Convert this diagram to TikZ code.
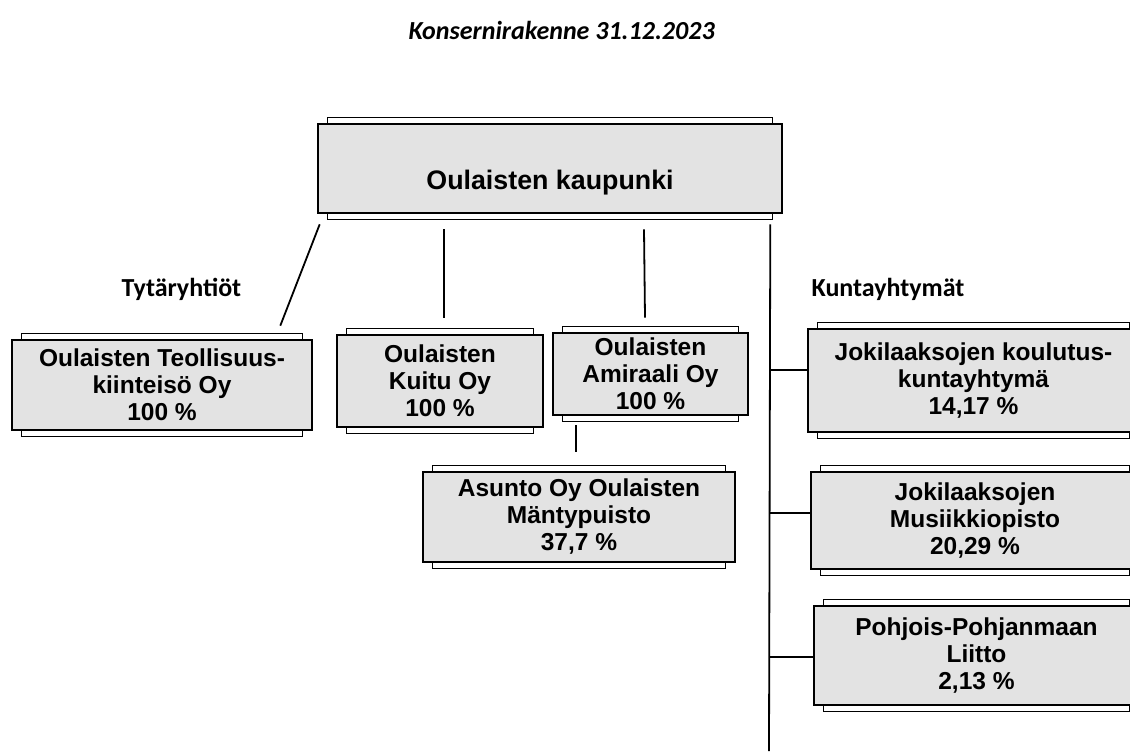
\documentclass[tikz,border=0pt]{standalone}
\usepackage{fontspec}
\setmainfont{Liberation Sans}
\newfontfamily\calibri{Carlito}
\usetikzlibrary{calc,backgrounds}
\definecolor{boxgray}{RGB}{227,227,227}

\begin{document}
\begin{tikzpicture}[x=1pt,y=-1pt]
 \tikzstyle{unit}    = [draw=black,line width=2.6pt,fill=boxgray,align=center,inner sep=0pt,
                        font=\fontsize{24.5}{27}\selectfont\bfseries];
 \tikzstyle{backing} = [draw=black,line width=1.4pt,fill=white];
 \tikzstyle{link}    = [line width=1.8pt];
 \tikzstyle{heading} = [anchor=base west,font=\calibri\fontsize{26}{30}\selectfont\bfseries];

 \useasboundingbox (0,0) rectangle (1130,754);

 %% title
 \node[heading, name=title] at (405,40) {\itshape Konsernirakenne 31.12.2023};

 %% city
 \node[unit, name=konserni, minimum width=464pt, minimum height=89pt,
       font=\fontsize{26.8}{30}\selectfont\bfseries, text height=42pt, text depth=0pt]
       at (550,168.5) {Oulaisten kaupunki};

 %% subsidiaries
 \node[heading, name=tytar] at (118,296) {Tytäryhtiöt};
 \node[unit, name=teol, minimum width=300pt, minimum height=90pt] at (162,385)
      {Oulaisten Teollisuus-\\kiinteisö Oy\\100 \%};
 \node[unit, name=kuitu, minimum width=206pt, minimum height=92pt] at (440,381)
      {Oulaisten\\Kuitu Oy\\100 \%};
 \node[unit, name=amiraali, minimum width=195pt, minimum height=82pt] at (650.5,374)
      {Oulaisten\\Amiraali Oy\\100 \%};
 \node[unit, name=mantypuisto, minimum width=312pt, minimum height=90pt] at (579,517)
      {Asunto Oy Oulaisten\\Mäntypuisto\\37,7 \%};

 %% joint municipal authorities
 \node[heading, name=kunta] at (808,296) {Kuntayhtymät};
 \node[unit, name=koulutus, minimum width=331pt, minimum height=103pt] at (973.5,380.5)
      {Jokilaaksojen koulutus-\\kuntayhtymä\\14,17 \%};
 \node[unit, name=musiikki, minimum width=328pt, minimum height=97pt] at (975,520.5)
      {Jokilaaksojen\\Musiikkiopisto\\20,29 \%};
 \node[unit, name=liitto, minimum width=325pt, minimum height=99pt] at (976.5,655.5)
      {Pohjois-Pohjanmaan\\Liitto\\2,13 \%};

 %% back plates
 \begin{scope}[on background layer]
  \foreach \unitname in {konserni,teol,kuitu,amiraali,mantypuisto,koulutus,musiikki,liitto}
   \draw[backing] ([shift={(11,-5)}]\unitname.north west) rectangle ([shift={(-11,5)}]\unitname.south east);
 \end{scope}

 %% links
 \draw[link] ([shift={(3,10)}]konserni.south west) -- ([shift={(-33,-13)}]teol.north east);
 \draw[link] ([shift={(-106,15)}]konserni.south) -- ([shift={(4,-16)}]kuitu.north);
 \draw[link] ([shift={(94,15)}]konserni.south) -- ([shift={(-5.5,-14)}]amiraali.north);
 \draw[link] ([shift={(-74.5,9)}]amiraali.south) -- ([shift={(-3,-19)}]mantypuisto.north);

 \coordinate (trunktop) at ($(konserni.south east)+(-13,10)$);
 \coordinate (trunkend) at (769,751);
 \draw[link] (trunktop) -- (trunkend);
 \coordinate (b1) at ($(koulutus.west)+(0,-10.5)$);
 \coordinate (b2) at ($(musiikki.west)+(0,-7.5)$);
 \coordinate (b3) at ($(liitto.west)+(0,1.5)$);
 \draw[link] (b1) -- (b1 -| trunktop);
 \draw[link] (b2) -- (b2 -| trunktop);
 \draw[link] (b3) -- (b3 -| trunktop);

\end{tikzpicture}
\end{document}
